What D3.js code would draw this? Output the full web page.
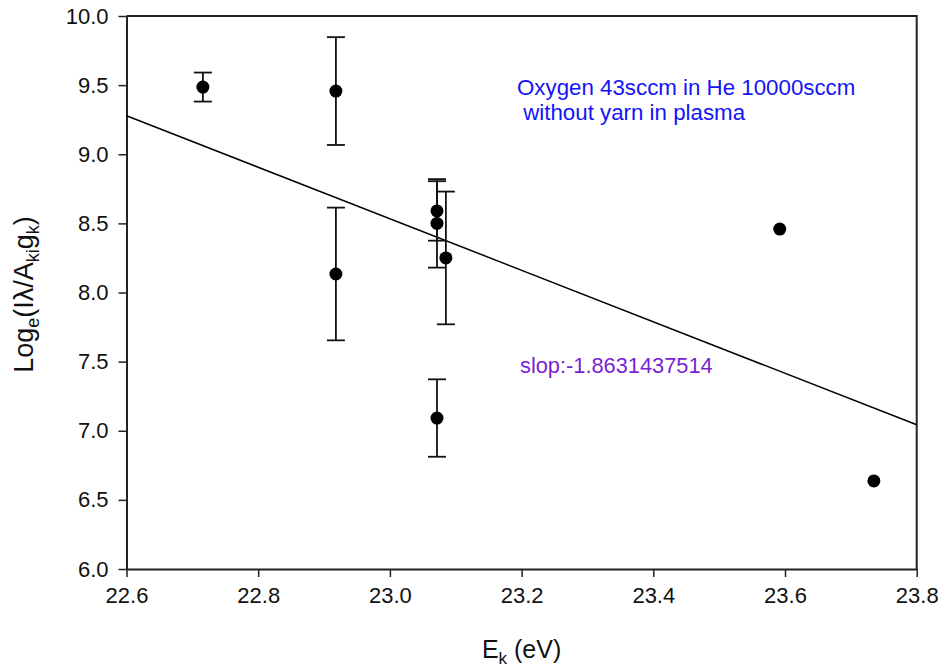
<!DOCTYPE html>
<html>
<head>
<meta charset="utf-8">
<script src="https://cdn.jsdelivr.net/npm/d3@7"></script>
<style>
  html, body { margin: 0; padding: 0; background: #fff; }
  svg { display: block; font-family: "Liberation Sans", Arial, sans-serif; }
</style>
</head>
<body>
<svg id="chart" width="940" height="668"></svg>
<script>
// Excitation energy of the upper level (eV)
const energy = [22.716, 22.918, 22.918, 23.0715, 23.0715, 23.0715, 23.085, 23.592, 23.735];
// ln(I·λ / (A_ki·g_k)) for each line
const logIntensity = [9.486, 9.457, 8.134, 8.59, 8.50, 7.092, 8.25, 8.459, 6.637];
// Half-width of the error bar (0 = no bar drawn)
const errorHalf = [0.105, 0.39, 0.48, 0.215, 0.32, 0.28, 0.48, 0, 0];

const xTicks = [22.6, 22.8, 23.0, 23.2, 23.4, 23.6, 23.8];
const yTicks = [6.0, 6.5, 7.0, 7.5, 8.0, 8.5, 9.0, 9.5, 10.0];
const fitSlope = -1.8631437514;
const noteLines = ["Oxygen 43sccm in He 10000sccm", " without yarn in plasma"];
const slopeLabel = "slop:-1.8631437514";

const svg = d3.select("#chart");
const W = 940, H = 668;
const margin = { top: 16, right: 23.3, bottom: 99, left: 126.5 };
const iw = W - margin.left - margin.right;
const ih = H - margin.top - margin.bottom;

const x = d3.scaleLinear().domain([22.6, 23.8]).range([0, iw]);
const y = d3.scaleLinear().domain([6.0, 10.0]).range([ih, 0]);

const g = svg.append("g").attr("transform", `translate(${margin.left},${margin.top})`);

// frame (top and right edges)
g.append("path")
  .attr("d", `M0,0H${iw}V${ih}`)
  .attr("fill", "none").attr("stroke", "#222").attr("stroke-width", 2);

// axes
const xAxis = g.append("g").attr("transform", `translate(0,${ih})`)
  .call(d3.axisBottom(x).tickValues(xTicks).tickFormat(d3.format(".1f")).tickSizeInner(8).tickSizeOuter(0).tickPadding(10));
const yAxis = g.append("g")
  .call(d3.axisLeft(y).tickValues(yTicks).tickFormat(d3.format(".1f")).tickSizeInner(8).tickSizeOuter(0).tickPadding(10));
[xAxis, yAxis].forEach(a => {
  a.select(".domain").attr("stroke", "#222").attr("stroke-width", 2);
  a.selectAll(".tick line").attr("stroke", "#222").attr("stroke-width", 1.5);
  a.selectAll(".tick text").attr("fill", "#111").style("font-size", "22px")
    .style("font-family", "'Liberation Sans', Arial, sans-serif");
});

// least-squares line with the reported slope
const mx = d3.mean(energy), my = d3.mean(logIntensity);
const intercept = my - fitSlope * mx;
const fit = v => intercept + fitSlope * v;
g.append("line")
  .attr("x1", x(22.6)).attr("y1", y(fit(22.6)))
  .attr("x2", x(23.8)).attr("y2", y(fit(23.8)))
  .attr("stroke", "#000").attr("stroke-width", 1.5);

// error bars
const pts = energy.map((e, i) => ({ e, v: logIntensity[i], err: errorHalf[i] }));
const eb = g.append("g").attr("stroke", "#111").attr("stroke-width", 1.8).attr("fill", "none");
pts.filter(p => p.err > 0).forEach(p => {
  const cx = x(p.e), y0 = y(p.v - p.err), y1 = y(p.v + p.err);
  eb.append("line").attr("x1", cx).attr("x2", cx).attr("y1", y0).attr("y2", y1);
  eb.append("line").attr("x1", cx - 9).attr("x2", cx + 9).attr("y1", y0).attr("y2", y0);
  eb.append("line").attr("x1", cx - 9).attr("x2", cx + 9).attr("y1", y1).attr("y2", y1);
});

// data points
g.selectAll("circle.pt").data(pts).join("circle")
  .attr("class", "pt")
  .attr("cx", d => x(d.e)).attr("cy", d => y(d.v)).attr("r", 6.5)
  .attr("fill", "#000");

// annotations
const note = svg.append("text").attr("fill", "#1414f5").style("font-size", "22.3px");
noteLines.forEach((t, i) => {
  note.append("tspan").attr("x", 517).attr("y", 95 + i * 25).attr("xml:space", "preserve").text(t);
});
svg.append("text").attr("x", 520).attr("y", 373).attr("fill", "#7a1fd4")
  .style("font-size", "21.8px").text(slopeLabel);

// axis titles
const xt = svg.append("text").attr("x", margin.left + iw / 2).attr("y", 658)
  .attr("text-anchor", "middle").attr("fill", "#111").style("font-size", "25px");
xt.append("tspan").text("E");
xt.append("tspan").attr("dy", 6).style("font-size", "17px").text("k");
xt.append("tspan").attr("dy", -6).text(" (eV)");

const yt = svg.append("text")
  .attr("transform", `translate(33,${margin.top + ih / 2 + 2}) rotate(-90)`)
  .attr("text-anchor", "middle").attr("fill", "#111").style("font-size", "27px");
yt.append("tspan").text("Log");
yt.append("tspan").attr("dy", 6).style("font-size", "18px").text("e");
yt.append("tspan").attr("dy", -6).text("(Iλ/A");
yt.append("tspan").attr("dy", 6).style("font-size", "18px").text("ki");
yt.append("tspan").attr("dy", -6).text("g");
yt.append("tspan").attr("dy", 6).style("font-size", "18px").text("k");
yt.append("tspan").attr("dy", -6).text(")");
</script>
</body>
</html>
